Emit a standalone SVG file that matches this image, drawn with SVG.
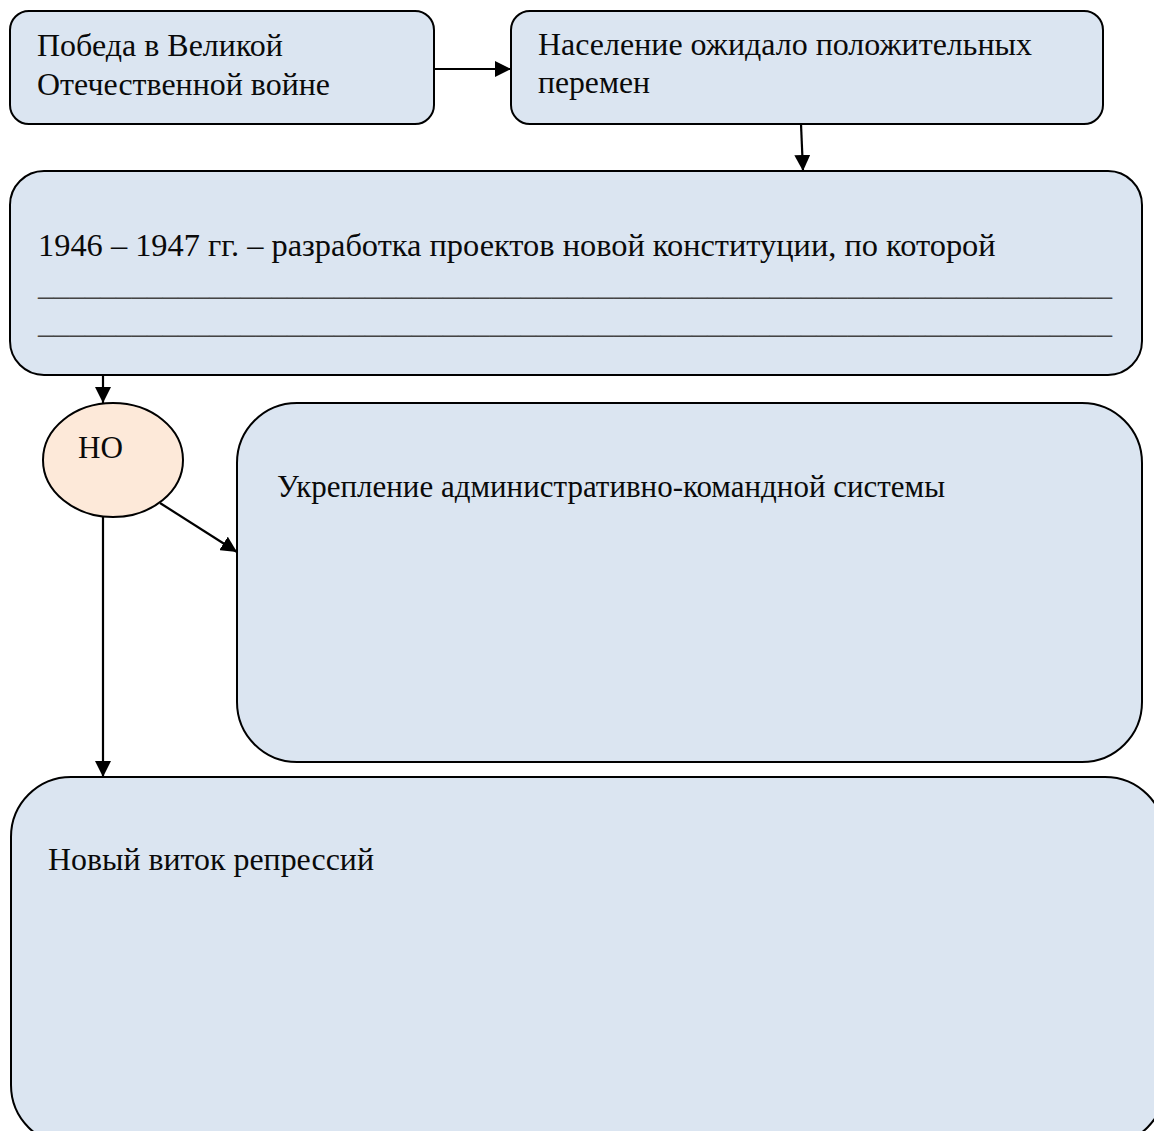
<svg xmlns="http://www.w3.org/2000/svg" width="1154" height="1131" viewBox="0 0 1154 1131">
<defs>
<marker id="arr" markerUnits="userSpaceOnUse" markerWidth="16" markerHeight="16" viewBox="0 0 16 16" refX="16" refY="8" orient="auto">
<path d="M0,0 L16,8 L0,16 Z" fill="#000"/>
</marker>
</defs>
<style>
.box{fill:#dbe5f1;stroke:#000;stroke-width:2}
.oval{fill:#fde9d9;stroke:#000;stroke-width:2}
.t{font-family:"Liberation Serif","Times New Roman",serif;font-size:32.4px;fill:#0a0a0a}
.u{font-family:"Liberation Serif","Times New Roman",serif;font-size:32px;fill:#444}
.c{stroke:#000;stroke-width:2.2;fill:none;marker-end:url(#arr)}
</style>
<rect width="1154" height="1131" fill="#fff"/>
<g id="n1">
<rect class="box" x="10" y="11" width="424" height="113" rx="19"/>
<text class="t" x="37" y="56" textLength="246" lengthAdjust="spacingAndGlyphs">Победа в Великой</text>
<text class="t" x="37" y="95" textLength="293" lengthAdjust="spacingAndGlyphs">Отечественной войне</text>
</g>
<g id="n2">
<rect class="box" x="511" y="11" width="592" height="113" rx="19"/>
<text class="t" x="538" y="55" textLength="494" lengthAdjust="spacingAndGlyphs">Население ожидало положительных</text>
<text class="t" x="538" y="93" textLength="112" lengthAdjust="spacingAndGlyphs">перемен</text>
</g>
<g id="n3">
<rect class="box" x="10" y="171" width="1132" height="204" rx="34"/>
<text class="t" x="38" y="256">1946 – 1947 гг. – разработка проектов новой конституции, по которой</text>
<text class="u" x="38" y="295" textLength="1074" lengthAdjust="spacingAndGlyphs">_____________________________________________________________________</text>
<text class="u" x="38" y="333" textLength="1074" lengthAdjust="spacingAndGlyphs">_____________________________________________________________________</text>
</g>
<g id="n4">
<ellipse class="oval" cx="113" cy="460" rx="70" ry="57"/>
<text class="t" x="78" y="458" textLength="45" lengthAdjust="spacingAndGlyphs">НО</text>
</g>
<g id="n5">
<rect class="box" x="237" y="403" width="905" height="359" rx="60"/>
<text class="t" x="277" y="497" textLength="668" lengthAdjust="spacingAndGlyphs">Укрепление административно-командной системы</text>
</g>
<g id="n6">
<rect class="box" x="11" y="777" width="1154" height="368" rx="60"/>
<text class="t" x="48" y="870" textLength="326" lengthAdjust="spacingAndGlyphs">Новый виток репрессий</text>
</g>
<g id="connectors">
<line class="c" x1="434" y1="69" x2="511" y2="69"/>
<line class="c" x1="801" y1="124" x2="803" y2="171"/>
<line class="c" x1="103" y1="375" x2="103" y2="403"/>
<line class="c" x1="160" y1="503" x2="237" y2="552"/>
<line class="c" x1="103" y1="517" x2="103" y2="777"/>
</g>
</svg>
